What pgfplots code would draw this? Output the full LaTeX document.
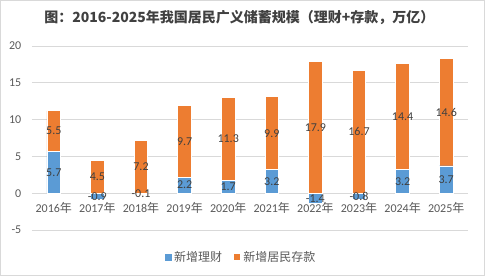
\documentclass[border=0pt]{standalone}
\usepackage{fontspec}
\setmainfont{Carlito}
\newfontfamily\cjk{Noto Sans CJK SC}
\usepackage{pgfplots}
\pgfplotsset{compat=1.18}
\usepackage{pgfplotstable}

\definecolor{finblue}{HTML}{5B9BD5}
\definecolor{deporange}{HTML}{ED7D31}
\definecolor{gridgray}{HTML}{D9D9D9}
\definecolor{txtgray}{HTML}{595959}
\definecolor{lblgray}{HTML}{404040}

% fin: new wealth-management products; finpos: its positive part (base of the deposit bar)
% dep: new household deposits (trillion yuan)
\pgfplotstableread{
x fin finpos dep
0 5.7 5.7 5.5
1 -0.9 0 4.5
2 -0.1 0 7.2
3 2.2 2.2 9.7
4 1.7 1.7 11.3
5 3.2 3.2 9.9
6 -1.4 0 17.9
7 -0.8 0 16.7
8 3.2 3.2 14.4
9 3.7 3.7 14.6
}\datatable

\pgfplotsset{
  baseaxis/.style={
    at={(24pt,34.5pt)}, anchor=south west,
    scale only axis, width=327pt, height=138pt,
    xmin=-0.5, xmax=9.5, ymin=-5, ymax=20,
    axis line style={draw=none},
    tick style={draw=none},
    bar width=10.2pt,
  },
  valuelabels/.style={
    visualization depends on=rawy\as\rawy,
    nodes near coords={\pgfmathprintnumber[fixed,fixed zerofill,precision=1,assume math mode=true]{\rawy}},
    every node near coord/.append style={font=\fontsize{9}{10}\selectfont, text=lblgray,
      anchor=center, inner sep=0pt},
  },
  midlabels/.style={
    valuelabels,
    every node near coord/.append style={shift={(axis direction cs:0,-\rawy/2)}},
  },
}

\begin{document}
\begin{tikzpicture}
\useasboundingbox (0,0) rectangle (363.75pt,207pt);
\draw[gridgray, line width=0.75pt] (0.375pt,0.375pt) rectangle (363.375pt,206.625pt);

\node[font=\cjk\bfseries\fontsize{10.5}{12}\selectfont, text=lblgray] at (179.5pt,194pt)
  {图：2016-2025年我国居民广义储蓄规模（理财+存款，万亿）};

\begin{axis}[baseaxis, ybar stacked,
  ymajorgrids, major grid style={gridgray, line width=0.75pt},
  ytick={-5,0,5,10,15,20},
  yticklabel style={font=\fontsize{9}{10}\selectfont, text=txtgray, xshift=-4.5pt},
  /pgf/number format/assume math mode=true,
  xtick={0,...,9},
  xticklabels={{2016{\cjk 年}},{2017{\cjk 年}},{2018{\cjk 年}},{2019{\cjk 年}},{2020{\cjk 年}},
               {2021{\cjk 年}},{2022{\cjk 年}},{2023{\cjk 年}},{2024{\cjk 年}},{2025{\cjk 年}}},
  xticklabel style={font=\fontsize{9}{10}\selectfont, text=txtgray, anchor=center, yshift=16.9pt},
  legend style={at={(0.48,-0.147)}, anchor=center, draw=none, fill=none,
    legend columns=-1, font=\cjk\fontsize{9}{10}\selectfont, text=txtgray,
    /tikz/every even column/.append style={column sep=6pt}},
  legend image code/.code={\fill[#1] (0pt,-2.6pt) rectangle (5.2pt,2.6pt);},
]
\addplot[fill=finblue, draw=none] table[x=x,y=finpos]{\datatable};
\addlegendentry{新增理财}
\addplot[fill=deporange, draw=white, line width=0.6pt, valuelabels] table[x=x,y=dep]{\datatable};
\addlegendentry{新增居民存款}
\end{axis}

\begin{axis}[baseaxis, ybar, bar shift=0pt, hide axis]
\addplot[fill=finblue, draw=white, line width=0.6pt, midlabels] table[x=x,y=fin]{\datatable};
\end{axis}
\end{tikzpicture}
\end{document}
